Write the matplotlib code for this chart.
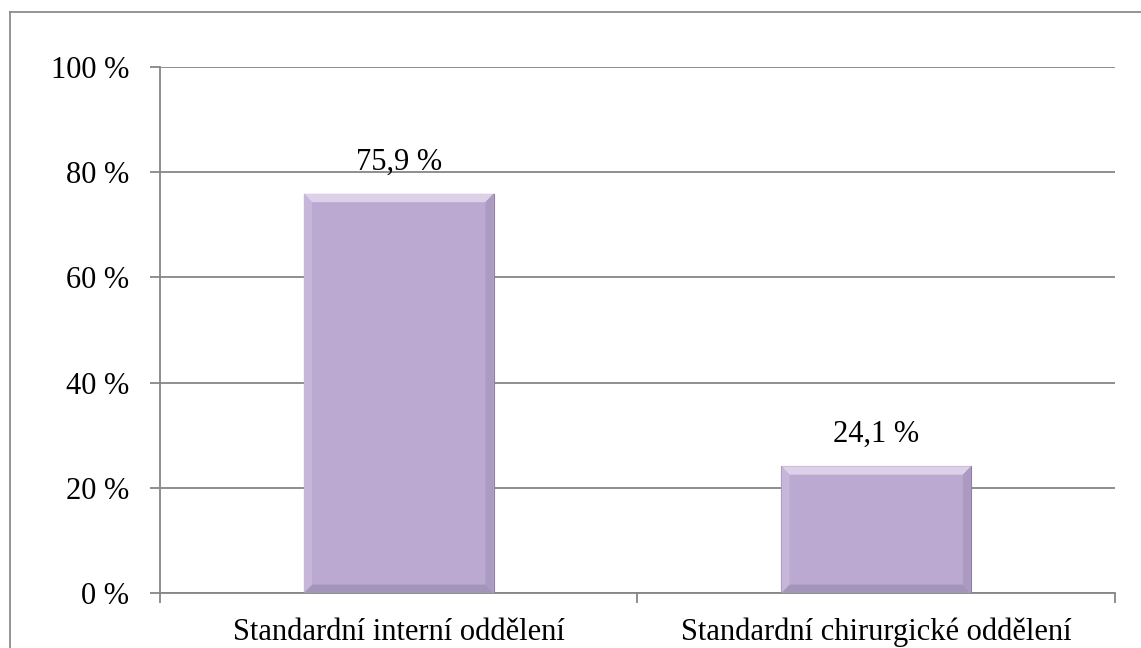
import matplotlib.pyplot as plt
from matplotlib.patches import Polygon
from matplotlib.lines import Line2D

categories = ["Standardní interní oddělení", "Standardní chirurgické oddělení"]
values = [75.9, 24.1]
labels = ["75,9 %", "24,1 %"]
yticks = [0, 20, 40, 60, 80, 100]

plt.rcParams['font.family'] = ['Liberation Serif', 'DejaVu Serif']

fig = plt.figure(figsize=(11.41, 6.48), dpi=100)
ax = fig.add_axes([0.1402, 0.0849, 0.8370, 0.8117])

grid_col = '#868686'
face = '#bba9d2'
width = 0.397
fs = 22

x = list(range(len(categories)))
bars = ax.bar(x, values, width=width, color=face, edgecolor='#8f7fa6', linewidth=0.8, zorder=3)

# bevel look: light top band, dark bottom and sides
bx = 0.017  # horizontal bevel in data units
by = 1.6    # vertical bevel in data units
for b in bars:
    x0, x1 = b.get_x(), b.get_x() + b.get_width()
    y0, y1 = 0, b.get_height()
    ax.add_patch(Polygon([(x0, y1), (x1, y1), (x1 - bx, y1 - by), (x0 + bx, y1 - by)],
                         closed=True, facecolor='#ddd1ea', edgecolor='none', zorder=4))
    ax.add_patch(Polygon([(x0, y0), (x1, y0), (x1 - bx, y0 + by), (x0 + bx, y0 + by)],
                         closed=True, facecolor='#a394b9', edgecolor='none', zorder=4))
    ax.add_patch(Polygon([(x1, y0), (x1, y1), (x1 - bx, y1 - by), (x1 - bx, y0 + by)],
                         closed=True, facecolor='#ab9bc0', edgecolor='none', zorder=4))
    ax.add_patch(Polygon([(x0, y0), (x0, y1), (x0 + bx, y1 - by), (x0 + bx, y0 + by)],
                         closed=True, facecolor='#c5b6da', edgecolor='none', zorder=4))

for xi, v, lab in zip(x, values, labels):
    ax.text(xi, v + 3.3, lab, ha='center', va='bottom', fontsize=fs, zorder=5)

ax.set_xlim(-0.5, len(categories) - 0.5)
ax.set_ylim(0, 100)
ax.set_yticks(yticks)
ax.set_yticklabels([f"{t} %" for t in yticks], fontsize=fs)
ax.yaxis.grid(True, color=grid_col, linewidth=1.3, zorder=0)
ax.set_axisbelow(True)

ax.set_xticks([i - 0.5 for i in range(len(categories) + 1)])
ax.set_xticklabels([])
ax.set_xticks(x, minor=True)
ax.set_xticklabels(categories, minor=True, fontsize=fs)
ax.tick_params(axis='x', which='minor', length=0, pad=18)
ax.tick_params(axis='x', which='major', length=7, color=grid_col, width=1.3)
ax.tick_params(axis='y', length=7, color=grid_col, width=1.3, pad=15)

for s in ['top', 'right']:
    ax.spines[s].set_visible(False)
for s in ['left', 'bottom']:
    ax.spines[s].set_color(grid_col)
    ax.spines[s].set_linewidth(1.3)

# outer frame (only left and top visible in the crop)
fig.add_artist(Line2D([10 / 1141, 10 / 1141], [0, 1 - 12 / 648], color='#8c8c8c', linewidth=1.3))
fig.add_artist(Line2D([10 / 1141, 1], [1 - 12 / 648, 1 - 12 / 648], color='#8c8c8c', linewidth=1.3))

fig.savefig('out.png', dpi=100)
